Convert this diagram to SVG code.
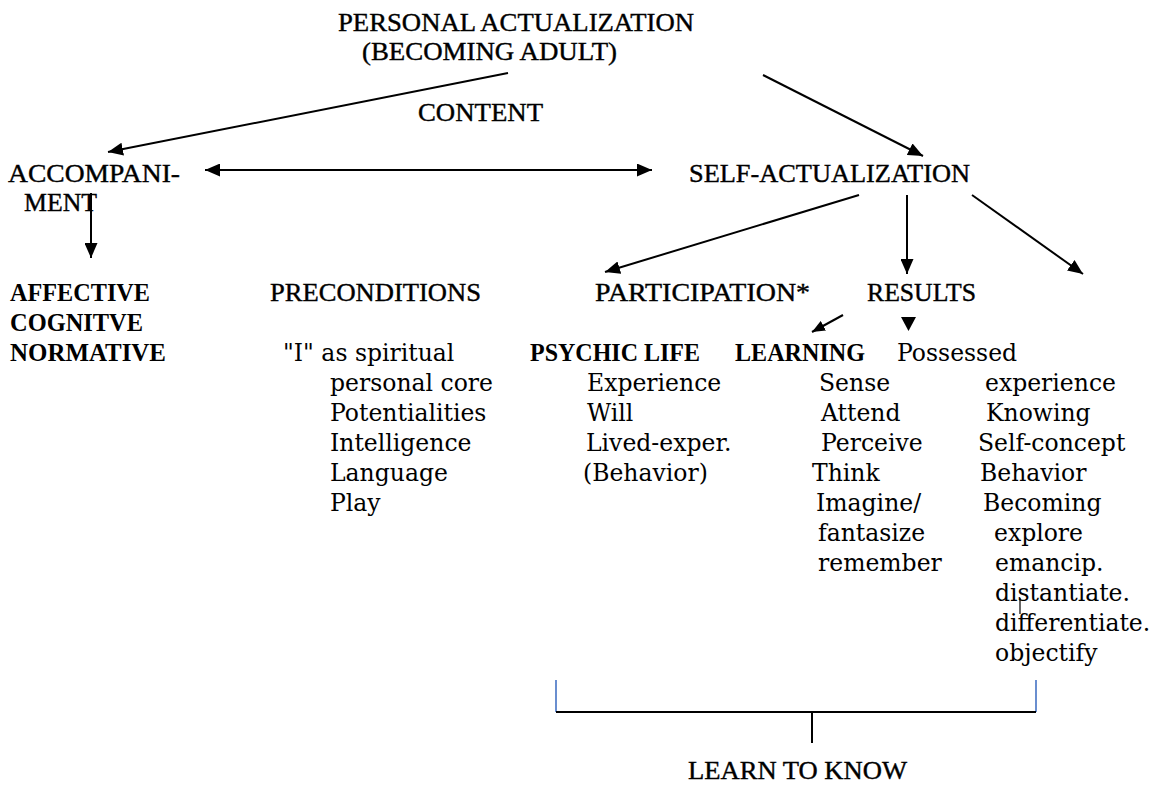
<svg xmlns="http://www.w3.org/2000/svg" width="1161" height="785" viewBox="0 0 1161 785">
<defs>
<marker id="ah" viewBox="0 0 15 13" refX="15" refY="6.5" markerWidth="15" markerHeight="13" markerUnits="userSpaceOnUse" orient="auto">
<path d="M0,0 L15,6.5 L0,13 Z" fill="#000"/>
</marker>
<marker id="ahs" viewBox="0 0 15 13" refX="0" refY="6.5" markerWidth="15" markerHeight="13" markerUnits="userSpaceOnUse" orient="auto">
<path d="M15,0 L0,6.5 L15,13 Z" fill="#000"/>
</marker>
<marker id="ahm" viewBox="0 0 13 11" refX="13" refY="5.5" markerWidth="13" markerHeight="11" markerUnits="userSpaceOnUse" orient="auto">
<path d="M0,0 L13,5.5 L0,11 Z" fill="#000"/>
</marker>
</defs>
<style>
.h{font-family:"Liberation Serif","Times New Roman",serif;font-size:26px;fill:#000;stroke:#000;stroke-width:0.4;}
.b{font-family:"Liberation Serif","Times New Roman",serif;font-size:26px;font-weight:bold;fill:#000;}
.t{font-family:"DejaVu Serif","Liberation Serif",serif;font-size:23.5px;fill:#000;}
.c{stroke:#000;stroke-width:2;fill:none;}
.blue{stroke:#4472C4;stroke-width:1.6;fill:none;}
</style>
<rect width="1161" height="785" fill="#fff"/>
<g id="personal">
<text class="h" x="338" y="31" textLength="356" lengthAdjust="spacingAndGlyphs">PERSONAL ACTUALIZATION</text>
<text class="h" x="362" y="60" textLength="255" lengthAdjust="spacingAndGlyphs">(BECOMING ADULT)</text>
</g>
<g id="content"><text class="h" x="418" y="121" textLength="125" lengthAdjust="spacingAndGlyphs">CONTENT</text></g>
<g id="accompaniment">
<text class="h" x="8" y="182" textLength="172" lengthAdjust="spacingAndGlyphs">ACCOMPANI-</text>
<text class="h" x="24" y="211" textLength="73" lengthAdjust="spacingAndGlyphs">MENT</text>
</g>
<g id="selfact"><text class="h" x="689" y="182" textLength="281" lengthAdjust="spacingAndGlyphs">SELF-ACTUALIZATION</text></g>
<g id="domains">
<text class="b" x="10" y="301" textLength="140" lengthAdjust="spacingAndGlyphs">AFFECTIVE</text>
<text class="b" x="10" y="331" textLength="133" lengthAdjust="spacingAndGlyphs">COGNITVE</text>
<text class="b" x="10" y="361" textLength="156" lengthAdjust="spacingAndGlyphs">NORMATIVE</text>
</g>
<g id="preconditions">
<text class="h" x="270" y="301" textLength="211" lengthAdjust="spacingAndGlyphs">PRECONDITIONS</text>
<text class="t" x="283" y="361">"I" as spiritual</text>
<text class="t" x="330" y="391">personal core</text>
<text class="t" x="330" y="421">Potentialities</text>
<text class="t" x="330" y="451">Intelligence</text>
<text class="t" x="330" y="481">Language</text>
<text class="t" x="330" y="511">Play</text>
</g>
<g id="participation"><text class="h" x="595" y="301" textLength="215" lengthAdjust="spacingAndGlyphs">PARTICIPATION*</text></g>
<g id="results"><text class="h" x="867" y="301" textLength="109" lengthAdjust="spacingAndGlyphs">RESULTS</text></g>
<g id="psychic">
<text class="b" x="530" y="361" textLength="170" lengthAdjust="spacingAndGlyphs">PSYCHIC LIFE</text>
<text class="t" x="587" y="391">Experience</text>
<text class="t" x="587" y="421">Will</text>
<text class="t" x="586" y="451">Lived-exper.</text>
<text class="t" x="583" y="481">(Behavior)</text>
</g>
<g id="learning">
<text class="b" x="735" y="361" textLength="130" lengthAdjust="spacingAndGlyphs">LEARNING</text>
<text class="t" x="819" y="391">Sense</text>
<text class="t" x="821" y="421">Attend</text>
<text class="t" x="821" y="451">Perceive</text>
<text class="t" x="812" y="481">Think</text>
<text class="t" x="816" y="511">Imagine/</text>
<text class="t" x="818" y="541">fantasize</text>
<text class="t" x="818" y="571">remember</text>
</g>
<g id="possessed">
<text class="t" x="897" y="361">Possessed</text>
<text class="t" x="985" y="391">experience</text>
<text class="t" x="986" y="421">Knowing</text>
<text class="t" x="978" y="451">Self-concept</text>
<text class="t" x="980" y="481">Behavior</text>
<text class="t" x="983" y="511">Becoming</text>
<text class="t" x="994" y="541">explore</text>
<text class="t" x="995" y="571">emancip.</text>
<text class="t" x="995" y="601">distantiate.</text>
<text class="t" x="995" y="631">differentiate.</text>
<text class="t" x="995" y="661">objectify</text>
</g>
<g id="learntoknow"><text class="h" x="688" y="779" textLength="219" lengthAdjust="spacingAndGlyphs">LEARN TO KNOW</text></g>
<g id="connectors">
<line class="c" x1="508" y1="73" x2="108" y2="152" marker-end="url(#ah)"/>
<line class="c" x1="205" y1="170" x2="652" y2="170" marker-start="url(#ahs)" marker-end="url(#ah)"/>
<line class="c" x1="763" y1="75" x2="923" y2="156" marker-end="url(#ah)"/>
<line class="c" x1="91" y1="193" x2="91" y2="258" marker-end="url(#ah)"/>
<line class="c" x1="859" y1="195" x2="605" y2="272" marker-end="url(#ah)"/>
<line class="c" x1="907" y1="195" x2="907" y2="274" marker-end="url(#ah)"/>
<line class="c" x1="972" y1="195" x2="1083" y2="274" marker-end="url(#ah)"/>
<line class="c" x1="843" y1="315" x2="812" y2="332" marker-end="url(#ahm)"/>
<polygon points="901,317 916,317 908.5,331" fill="#000"/>
<line stroke="#000" stroke-width="1.2" x1="1020" y1="598" x2="1020" y2="614"/>
<line class="blue" x1="556" y1="680" x2="556" y2="712"/>
<line class="blue" x1="1036" y1="680" x2="1036" y2="712"/>
<line class="c" x1="556" y1="712" x2="1036" y2="712"/>
<line class="c" x1="812" y1="712" x2="812" y2="743"/>
</g>
</svg>
